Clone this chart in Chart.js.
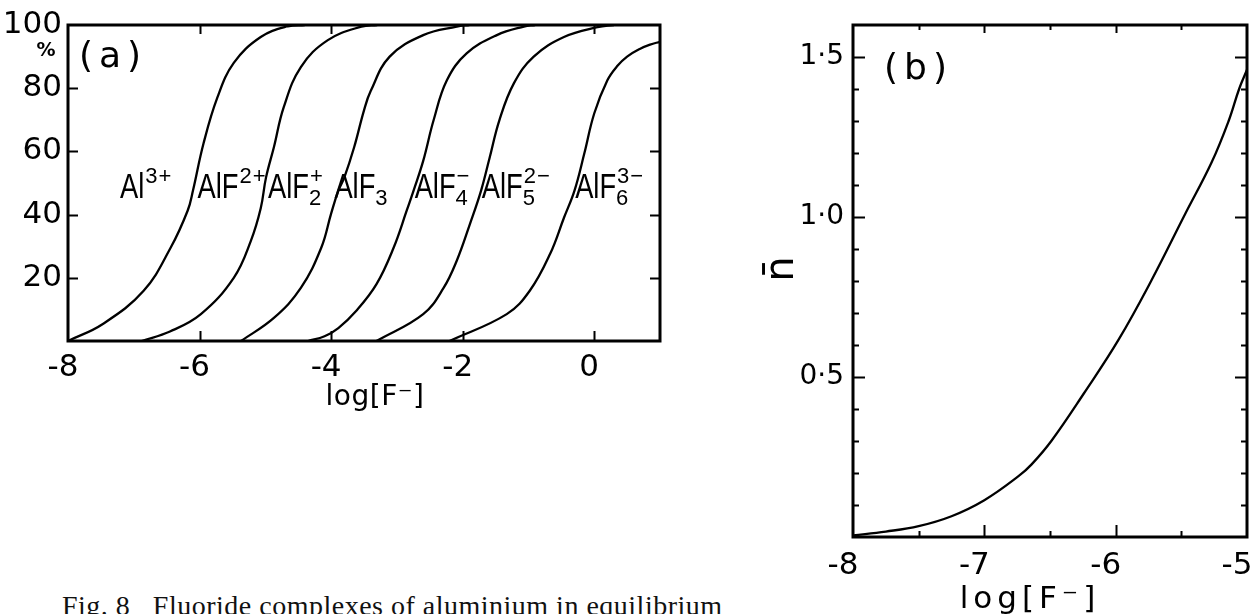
<!DOCTYPE html>
<html><head><meta charset="utf-8">
<script src="https://cdn.jsdelivr.net/npm/chart.js@4.4.1/dist/chart.umd.min.js"></script>
<style>
html,body{margin:0;padding:0;background:#fff;width:1255px;height:614px;overflow:hidden;position:relative;}
#ca{position:absolute;left:0;top:0;}
#cb{position:absolute;left:740px;top:0;}
#cap{position:absolute;left:62px;top:592px;font-family:"Liberation Serif",serif;font-size:28px;line-height:1;white-space:nowrap;color:#111;letter-spacing:0.5px;}
</style></head><body>
<canvas id="ca" width="700" height="440"></canvas>
<canvas id="cb" width="515" height="630"></canvas>
<div id="cap">Fig. 8&nbsp;&nbsp; Fluoride complexes of aluminium in equilibrium</div>
<script>
// ---------- Panel (a): cumulative distribution curves (log[F-] vs %) ----------
const c1x = [-8, -7.47, -6.85, -6.44, -6.18, -6.1, -5.94, -5.73, -5.48, -5.07, -4.66, -4.4];
const c1y = [0, 5.4, 15.9, 29.5, 41.3, 47.6, 62.5, 77, 88, 96.2, 99.6, 100];
const c2x = [-6.88, -6.45, -5.98, -5.48, -5.22, -5.07, -4.99, -4.87, -4.72, -4.46, -4.05, -3.54, -3.3];
const c2y = [0, 3, 8.5, 20, 31.7, 42, 51.7, 61.3, 74, 86.7, 95.2, 99.5, 100];
const c3x = [-5.37, -4.87, -4.46, -4.15, -4.0, -3.89, -3.8, -3.65, -3.5, -3.4, -3.11, -2.6, -2.09, -1.9];
const c3y = [0, 7.3, 16.8, 29.5, 40.3, 47.6, 51.7, 61.3, 73, 79, 90, 96.8, 99.5, 100];
const c4x = [-4.35, -4.1, -3.89, -3.62, -3.31, -3.05, -2.85, -2.74, -2.6, -2.44, -2.24, -1.94, -1.48, -1.07, -0.9];
const c4y = [0, 1.5, 4.1, 9.5, 18, 29.5, 41.3, 48, 57, 70, 82.5, 91, 96.8, 99.5, 100];
const c5x = [-3.31, -2.6, -2.29, -2.09, -1.89, -1.72, -1.59, -1.44, -1.22, -0.92, -0.46, 0.05, 0.3];
const c5y = [0, 8.5, 16.8, 25.4, 37, 47.6, 58, 70, 81.6, 90, 96.2, 99.3, 100];
const c6x = [-2.2, -1.33, -0.98, -0.67, -0.46, -0.3, -0.15, 0.0, 0.2, 0.35, 0.5, 0.7, 0.85, 1.0];
const c6y = [0, 8.5, 15.9, 27.6, 39, 47.6, 59.4, 72, 82.5, 87, 90, 92.5, 93.8, 94.7];

const xTicksA = [-8, -6, -4, -2, 0];
const yTicksA = [0, 20, 40, 60, 80, 100];

// species labels (text parts) and their anchor values
const speciesMain = ['Al', 'AlF', 'AlF', 'AlF', 'AlF', 'AlF', 'AlF'];
const speciesSub  = ['', '', '2', '3', '4', '5', '6'];
const speciesSup  = ['3+', '2+', '+', '', '\u2212', '2\u2212', '3\u2212'];
const speciesAtX  = [-7.21, -6.03, -4.96, -3.95, -2.73, -1.71, -0.29];
const speciesAtY  = 45.4;

// ---------- Panel (b): mean ligand number n̄ vs log[F-] ----------
const nbarX = [-8, -7.75, -7.5, -7.25, -7.0, -6.74, -6.64, -6.49, -6.24, -5.98, -5.73, -5.47, -5.27, -5.14, -5.06, -5.0];
const nbarY = [0.005, 0.017, 0.034, 0.065, 0.115, 0.19, 0.227, 0.30, 0.45, 0.615, 0.80, 1.01, 1.17, 1.30, 1.40, 1.46];
const xLabelsB = [-8, -7, -6, -5];
const yLabelsB = [0.5, 1.0, 1.5];

const xTitle = 'log[F\u207B]';
const yTitleB = 'n\u0304';

const pts = (xs, ys) => xs.map((x, i) => ({x, y: ys[i]}));

const framePlugin = {
  id: 'frame',
  afterDraw(chart, args, o) {
    const {ctx, chartArea: a} = chart;
    const sx = chart.scales.x, sy = chart.scales.y;
    ctx.save();
    ctx.strokeStyle = '#000';
    ctx.lineWidth = o.tickWidth;
    const mx = o.majorX || (() => true), my = o.majorY || (() => true);
    sx.ticks.forEach(t => {
      const v = t.value;
      if (v <= sx.min + 1e-9 || v >= sx.max - 1e-9) return;
      const p = Math.round(sx.getPixelForValue(v)) + 0.5;
      const L = mx(v) ? o.major : o.minor;
      const Lt = mx(v) ? o.majorTop : o.minorTop;
      ctx.beginPath();
      ctx.moveTo(p, a.bottom); ctx.lineTo(p, a.bottom - L);
      ctx.moveTo(p, a.top); ctx.lineTo(p, a.top + Lt);
      ctx.stroke();
    });
    sy.ticks.forEach(t => {
      const v = t.value;
      if (v <= sy.min + 1e-9 || v >= sy.max - 1e-9) return;
      const p = Math.round(sy.getPixelForValue(v)) + 0.5;
      const L = my(v) ? o.major : o.minor;
      ctx.beginPath();
      ctx.moveTo(a.left, p); ctx.lineTo(a.left + L, p);
      ctx.moveTo(a.right, p); ctx.lineTo(a.right - L, p);
      ctx.stroke();
    });
    ctx.lineWidth = o.frameWidth;
    ctx.strokeRect(a.left, a.top, a.right - a.left, a.bottom - a.top);
    // axis titles
    ctx.fillStyle = '#000';
    ctx.textAlign = 'center';
    ctx.textBaseline = 'middle';
    ctx.font = o.titleFont;
    ctx.letterSpacing = o.titleSpacing;
    ctx.fillText(xTitle, (a.left + a.right) / 2 + o.titleDx, a.bottom + o.titleDy);
    if (o.yTitle) {
      ctx.save();
      ctx.letterSpacing = '0px';
      ctx.font = o.yTitleFont;
      ctx.translate(a.left + o.yTitleDx, (a.top + a.bottom) / 2 + o.yTitleDy);
      ctx.rotate(-Math.PI / 2);
      ctx.fillText(o.yTitle, 0, 0);
      ctx.restore();
    }
    ctx.letterSpacing = '0px';
    ctx.restore();
  }
};

function drawSpecies(ctx, x, y, main, sub, sup) {
  ctx.save();
  ctx.fillStyle = '#000';
  ctx.textBaseline = 'alphabetic';
  ctx.textAlign = 'left';
  ctx.font = '35px "Liberation Sans"';
  const sc = 0.78;
  ctx.save();
  ctx.translate(x, y); ctx.scale(sc, 1);
  ctx.fillText(main, 0, 0);
  ctx.restore();
  let cx = x + ctx.measureText(main).width * sc;
  ctx.font = '22px "Liberation Sans"';
  ctx.letterSpacing = '1px';
  if (sub) { ctx.fillText(sub, cx, y + 7); }
  if (sup) { ctx.fillText(sup, cx + 1, y - 15); }
  ctx.letterSpacing = '0px';
  ctx.restore();
}

const annotA = {
  id: 'annotA',
  afterDraw(chart) {
    const {ctx, chartArea: a} = chart;
    const sx = chart.scales.x, sy = chart.scales.y;
    for (let i = 0; i < speciesMain.length; i++) {
      drawSpecies(ctx, sx.getPixelForValue(speciesAtX[i]), sy.getPixelForValue(speciesAtY),
        speciesMain[i], speciesSub[i], speciesSup[i]);
    }
    ctx.save();
    ctx.fillStyle = '#000';
    ctx.textBaseline = 'middle';
    ctx.textAlign = 'left';
    ctx.font = '36px "DejaVu Sans"';
    ctx.letterSpacing = '6px';
    ctx.fillText('(a)', a.left + 11, a.top + 33);
    ctx.letterSpacing = '0px';
    ctx.textAlign = 'center';
    ctx.font = 'bold 19px "DejaVu Sans"';
    ctx.fillText('%', sy.right - 22, sy.getPixelForValue(100) + 26);
    ctx.restore();
  }
};

const annotB = {
  id: 'annotB',
  afterDraw(chart) {
    const {ctx, chartArea: a} = chart;
    ctx.save();
    ctx.fillStyle = '#000';
    ctx.textBaseline = 'middle';
    ctx.textAlign = 'left';
    ctx.font = '36px "DejaVu Sans"';
    ctx.letterSpacing = '6px';
    ctx.fillText('(b)', a.left + 31, a.top + 45);
    ctx.letterSpacing = '0px';
    ctx.restore();
  }
};

const noPad = s => { s.paddingLeft = 0; s.paddingRight = 0; s.paddingTop = 0; s.paddingBottom = 0; };

const lineStyle = {borderColor: '#000', borderWidth: 2.3, pointRadius: 0, showLine: true,
  tension: 0.4, fill: false};

new Chart(document.getElementById('ca'), {
  type: 'scatter',
  data: {
    datasets: [
      {data: pts(c1x, c1y), ...lineStyle},
      {data: pts(c2x, c2y), ...lineStyle},
      {data: pts(c3x, c3y), ...lineStyle},
      {data: pts(c4x, c4y), ...lineStyle},
      {data: pts(c5x, c5y), ...lineStyle},
      {data: pts(c6x, c6y), ...lineStyle}
    ]
  },
  options: {
    responsive: false, animation: false, devicePixelRatio: 1,
    layout: {padding: {top: 25, right: 40, left: 0, bottom: 0}},
    plugins: {legend: {display: false}, tooltip: {enabled: false},
      frame: {tickWidth: 2, major: 10, minor: 10, majorTop: 9, minorTop: 9, frameWidth: 3,
        titleFont: '28px "DejaVu Sans"', titleSpacing: '0.5px', titleDx: 11, titleDy: 57}},
    scales: {
      x: {
        type: 'linear', min: -8, max: 1.0,
        afterBuildTicks: s => { s.ticks = xTicksA.map(v => ({value: v})); },
        afterFit: s => { s.height = 99; noPad(s); },
        grid: {display: false, drawTicks: false}, border: {display: false},
        ticks: {color: '#000', padding: 8, autoSkip: false, maxRotation: 0,
          font: {family: 'DejaVu Sans', size: 31}, labelOffset: -5,
          callback: v => String(v)}
      },
      y: {
        type: 'linear', min: 0, max: 100,
        afterBuildTicks: s => { s.ticks = yTicksA.map(v => ({value: v})); },
        afterFit: s => { s.width = 68; noPad(s); },
        grid: {display: false, drawTicks: false}, border: {display: false},
        ticks: {color: '#000', padding: 6, autoSkip: false,
          font: {family: 'DejaVu Sans', size: 31},
          callback: v => v === 0 ? '' : String(v)}
      }
    }
  },
  plugins: [framePlugin, annotA]
});

new Chart(document.getElementById('cb'), {
  type: 'scatter',
  data: {datasets: [{data: pts(nbarX, nbarY), ...lineStyle}]},
  options: {
    responsive: false, animation: false, devicePixelRatio: 1,
    layout: {padding: {top: 25, right: 8, left: 0, bottom: 0}},
    plugins: {legend: {display: false}, tooltip: {enabled: false},
      frame: {tickWidth: 2, major: 12, minor: 6, majorTop: 8, minorTop: 5, frameWidth: 3,
        majorX: v => Math.abs(v - Math.round(v)) < 1e-6,
        majorY: v => yLabelsB.some(m => Math.abs(m - v) < 1e-6),
        titleFont: '31px "DejaVu Sans"', titleSpacing: '5px', titleDx: -20, titleDy: 63,
        yTitle: yTitleB, yTitleFont: '40px "DejaVu Sans"', yTitleDx: -70, yTitleDy: -12}},
    scales: {
      x: {
        type: 'linear', min: -8, max: -5,
        ticks: {stepSize: 0.5, color: '#000', padding: 10, autoSkip: false, maxRotation: 0,
          font: {family: 'DejaVu Sans', size: 31}, labelOffset: -10,
          callback: v => xLabelsB.some(m => Math.abs(m - v) < 1e-6) ? String(Math.round(v)) : ''},
        afterFit: s => { s.height = 93; noPad(s); },
        grid: {display: false, drawTicks: false}, border: {display: false}
      },
      y: {
        type: 'linear', min: 0, max: 1.6,
        ticks: {stepSize: 0.1, color: '#000', padding: 9, autoSkip: false,
          font: {family: 'DejaVu Sans', size: 28},
          callback: v => yLabelsB.some(m => Math.abs(m - v) < 1e-6) ? v.toFixed(1).replace('.', '\u00B7') : ''},
        afterFit: s => { s.width = 113; noPad(s); },
        grid: {display: false, drawTicks: false}, border: {display: false}
      }
    }
  },
  plugins: [framePlugin, annotB]
});
</script>
</body></html>
